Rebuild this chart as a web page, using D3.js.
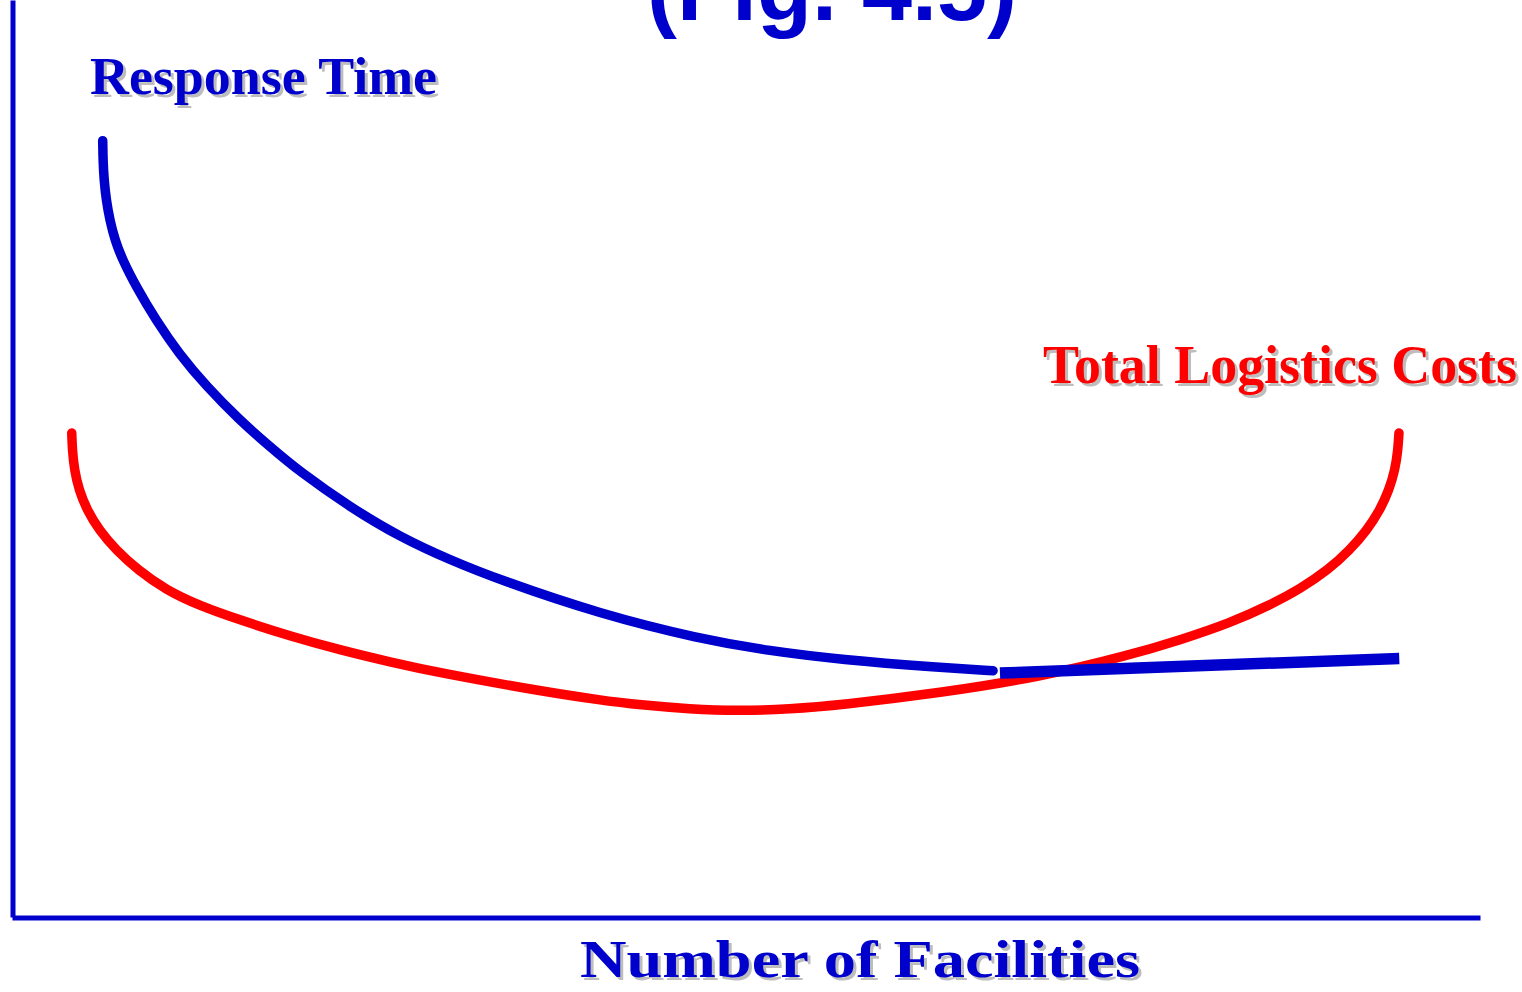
<!DOCTYPE html>
<html>
<head>
<meta charset="utf-8">
<script src="https://cdn.jsdelivr.net/npm/d3@7"></script>
<style>
  html, body { margin: 0; padding: 0; background: #fff; overflow: hidden; }
</style>
</head>
<body>
<div id="svg-container"></div>
<script>
// values (x: 0-100 facilities scale, y: 0-100 relative level)
const responseX = [6.18, 6.2, 6.27, 6.42, 6.66, 7.01, 7.53, 8.47, 9.8, 11.34, 13.22, 15.5, 17.44, 19.62,
  23.02, 26.43, 29.84, 33.24, 40.05, 46.87, 51.63, 56.4, 63.22, 66.83];
const responseY = [84.66, 82.55, 80.37, 78.19, 76.01, 73.83, 71.65, 68.7, 65.1, 61.5, 57.91, 54.2, 51.47, 48.53,
  44.71, 41.44, 38.93, 36.75, 33.04, 30.32, 29.01, 28.08, 27.21, 26.86];
const responseTailX = [67.3, 94.5];
const responseTailY = [26.6, 28.2];

const costX = [4.07, 4.11, 4.25, 4.56, 5.11, 5.93, 7.08, 8.58, 10.49, 12.81, 15.53, 18.94, 22.34, 25.75, 29.16,
  35.97, 40.05, 42.78, 46.19, 49.39, 53.0, 56.4, 63.22, 70.03, 76.16, 79.56, 82.97, 85.69, 87.74, 89.65,
  91.14, 92.3, 93.19, 93.8, 94.21, 94.41, 94.48];
const costY = [52.78, 50.93, 48.75, 46.56, 44.38, 42.2, 40.02, 37.84, 35.66, 33.92, 32.39, 30.64, 29.12, 27.81, 26.61,
  24.65, 23.66, 23.12, 22.68, 22.46, 22.68, 23.12, 24.43, 26.17, 28.57, 30.21, 32.06, 34.02, 35.77, 37.84,
  40.02, 42.2, 44.38, 46.56, 48.75, 50.93, 52.78];

const labels = ["Response Time", "Total Logistics Costs", "Number of Facilities"];
const title = "(Fig. 4.5)";

const width = 1522;
const height = 992;
const blue = "#0000cc";
const red = "#ff0000";

const svg = d3
  .select("#svg-container")
  .append("svg")
  .attr("width", width)
  .attr("height", height);

const xScale = d3.scaleLinear().domain([0, 100]).range([12, 1480]);
const yScale = d3.scaleLinear().domain([0, 100]).range([917, 0]);

// axes: bare lines, no ticks
const xAxis = d3.axisBottom(xScale).ticks(0).tickSizeOuter(0);
const yAxis = d3.axisLeft(yScale).ticks(0).tickSizeOuter(0);

svg
  .append("g")
  .attr("transform", "translate(0, 917.5)")
  .call(xAxis)
  .call((g) => g.select(".domain").attr("stroke", blue).attr("stroke-width", 5));

svg
  .append("g")
  .attr("transform", "translate(12.5, 0)")
  .call(yAxis)
  .call((g) => g.select(".domain").attr("stroke", blue).attr("stroke-width", 5));

const line = d3
  .line()
  .x((d) => xScale(d[0]))
  .y((d) => yScale(d[1]))
  .curve(d3.curveBasis);

svg
  .append("path")
  .datum(d3.zip(costX, costY))
  .attr("d", line)
  .attr("fill", "none")
  .attr("stroke", red)
  .attr("stroke-width", 9.5)
  .attr("stroke-linecap", "round");

svg
  .append("path")
  .datum(d3.zip(responseX, responseY))
  .attr("d", line)
  .attr("fill", "none")
  .attr("stroke", blue)
  .attr("stroke-width", 9.5)
  .attr("stroke-linecap", "round");

svg
  .append("path")
  .datum(d3.zip(responseTailX, responseTailY))
  .attr("d", line)
  .attr("fill", "none")
  .attr("stroke", blue)
  .attr("stroke-width", 11.5)
  .attr("stroke-linecap", "butt");

// labels with a soft grey drop shadow
const shadowText = (txt, x, y, size, color, len) => {
  [["#bdbdbd", 3], [color, 0]].forEach(([c, off]) => {
    svg
      .append("text")
      .attr("x", x + off)
      .attr("y", y + off)
      .attr("textLength", len)
      .attr("lengthAdjust", "spacingAndGlyphs")
      .style("font-family", "'Liberation Serif', 'Times New Roman', serif")
      .style("font-weight", "bold")
      .style("font-size", size + "px")
      .attr("fill", c)
      .text(txt);
  });
};

shadowText(labels[0], 90, 94, 52, blue, 347);
shadowText(labels[1], 1043, 383, 54, red, 474);
shadowText(labels[2], 580, 977, 52, blue, 560);

svg
  .append("text")
  .attr("x", 832)
  .attr("y", 20)
  .attr("text-anchor", "middle")
  .style("font-family", "'Liberation Sans', Arial, sans-serif")
  .style("font-weight", "bold")
  .style("font-size", "90px")
  .attr("fill", blue)
  .text(title);
</script>
</body>
</html>
